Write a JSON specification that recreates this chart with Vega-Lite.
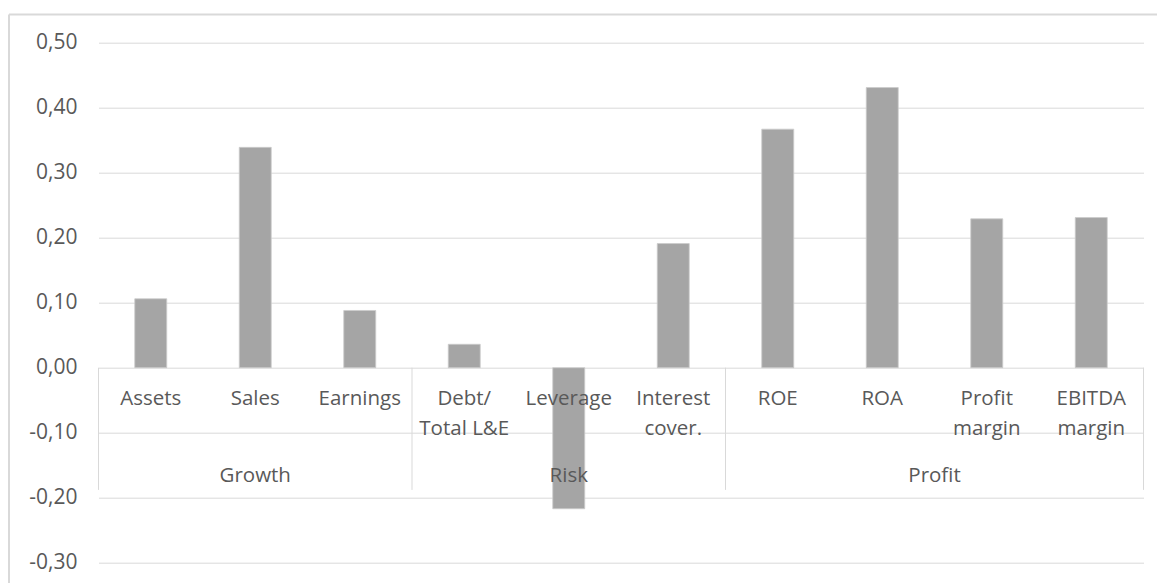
{
  "$schema": "https://vega.github.io/schema/vega-lite/v6.json",
  "autosize": "none",
  "width": 1045,
  "height": 520,
  "padding": {"left": 98.5, "top": 42.7, "right": 13.5, "bottom": 20.3},
  "background": "white",
  "config": {
    "view": {"stroke": null},
    "font": "Open Sans",
    "text": {"font": "Open Sans", "fontSize": 20.5, "color": "#595959"}
  },
  "datasets": {
    "bars": [
      {"cat": "Assets", "label": "Assets", "value": 0.106},
      {"cat": "Sales", "label": "Sales", "value": 0.339},
      {"cat": "Earnings", "label": "Earnings", "value": 0.088},
      {"cat": "Debt/Total L&E", "label": "Debt/\nTotal L&E", "value": 0.036},
      {"cat": "Leverage", "label": "Leverage", "value": -0.217},
      {"cat": "Interest cover.", "label": "Interest\ncover.", "value": 0.191},
      {"cat": "ROE", "label": "ROE", "value": 0.367},
      {"cat": "ROA", "label": "ROA", "value": 0.431},
      {"cat": "Profit margin", "label": "Profit\nmargin", "value": 0.229},
      {"cat": "EBITDA margin", "label": "EBITDA\nmargin", "value": 0.231}
    ],
    "groupsMid": [
      {"cat": "Sales", "group": "Growth"},
      {"cat": "Leverage", "group": "Risk"}
    ],
    "groupsEdge": [
      {"cat": "Profit margin", "group": "Profit"}
    ],
    "sepLeft": [
      {"cat": "Assets"},
      {"cat": "Debt/Total L&E"},
      {"cat": "ROE"}
    ],
    "sepRight": [
      {"cat": "EBITDA margin"}
    ],
    "border": [
      {"x": -0.8565, "x2": 10.3, "y": 0.5435, "y2": 0.5435},
      {"x": -0.8565, "x2": -0.8565, "y": 0.5435, "y2": -0.45}
    ]
  },
  "resolve": {"scale": {"x": "independent"}},
  "layer": [
    {
      "resolve": {"scale": {"x": "shared"}},
      "layer": [
        {
          "data": {"name": "bars"},
          "mark": {"type": "bar", "width": {"band": 0.306}, "fill": "#a5a5a5", "stroke": "#cccccc", "strokeWidth": 0.8},
          "encoding": {
            "x": {
              "field": "cat", "type": "nominal", "sort": null,
              "scale": {"domain": ["Assets", "Sales", "Earnings", "Debt/Total L&E", "Leverage", "Interest cover.", "ROE", "ROA", "Profit margin", "EBITDA margin"], "paddingInner": 0, "paddingOuter": 0},
              "axis": null
            },
            "y": {
              "field": "value", "type": "quantitative",
              "scale": {"domain": [-0.3, 0.5], "nice": false, "zero": false},
              "axis": {
                "title": null,
                "values": [-0.3, -0.2, -0.1, 0, 0.1, 0.2, 0.3, 0.4, 0.5],
                "domain": false,
                "ticks": false,
                "grid": true,
                "gridColor": "#d9d9d9",
                "gridWidth": 1,
                "labelFont": "Open Sans",
                "labelFontSize": 21,
                "labelColor": "#595959",
                "labelPadding": 21.5,
                "labelExpr": "(datum.value < -0.0001 ? '-' : '') + replace(format(abs(datum.value), '.2f'), '.', ',')"
              }
            }
          }
        },
        {
          "data": {"name": "sepLeft"},
          "mark": {"type": "rule", "color": "#d9d9d9", "strokeWidth": 1},
          "encoding": {
            "x": {"field": "cat", "type": "nominal", "sort": null, "bandPosition": 0, "axis": null},
            "y": {"datum": 0},
            "y2": {"datum": -0.188}
          }
        },
        {
          "data": {"name": "sepRight"},
          "mark": {"type": "rule", "color": "#d9d9d9", "strokeWidth": 1},
          "encoding": {
            "x": {"field": "cat", "type": "nominal", "sort": null, "bandPosition": 1, "axis": null},
            "y": {"datum": 0},
            "y2": {"datum": -0.188}
          }
        },
        {
          "data": {"name": "bars"},
          "mark": {"type": "text", "lineBreak": "\n", "lineHeight": 30, "baseline": "alphabetic", "align": "center", "fontSize": 20.5, "color": "#595959", "font": "Open Sans"},
          "encoding": {
            "x": {"field": "cat", "type": "nominal", "sort": null, "axis": null},
            "y": {"datum": -0.0569},
            "text": {"field": "label"}
          }
        },
        {
          "data": {"name": "groupsMid"},
          "mark": {"type": "text", "baseline": "alphabetic", "align": "center", "fontSize": 20.5, "color": "#595959", "font": "Open Sans"},
          "encoding": {
            "x": {"field": "cat", "type": "nominal", "sort": null, "bandPosition": 0.5, "axis": null},
            "y": {"datum": -0.1765},
            "text": {"field": "group"}
          }
        },
        {
          "data": {"name": "groupsEdge"},
          "mark": {"type": "text", "baseline": "alphabetic", "align": "center", "fontSize": 20.5, "color": "#595959", "font": "Open Sans"},
          "encoding": {
            "x": {"field": "cat", "type": "nominal", "sort": null, "bandPosition": 0, "axis": null},
            "y": {"datum": -0.1765},
            "text": {"field": "group"}
          }
        }
      ]
    },
    {
      "data": {"name": "border"},
      "mark": {"type": "rule", "color": "#d9d9d9", "strokeWidth": 2},
      "encoding": {
        "x": {"field": "x", "type": "quantitative", "scale": {"domain": [0, 10], "nice": false, "zero": false}, "axis": null},
        "x2": {"field": "x2"},
        "y": {"field": "y", "type": "quantitative"},
        "y2": {"field": "y2"}
      }
    }
  ]
}
